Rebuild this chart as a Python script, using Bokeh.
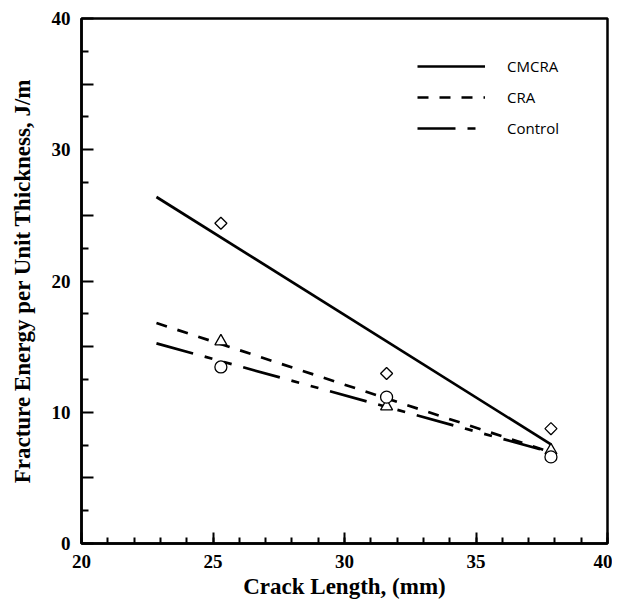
import numpy as np
from bokeh.plotting import figure
from bokeh.models import Range1d, FixedTicker, Legend, LegendItem
from bokeh.embed import file_html
from bokeh.resources import INLINE

# ---- data ----
crack_length = [25.3, 31.6, 37.85]
cmcra_points = [24.4, 12.95, 8.75]
cra_points = [15.4, 10.45, 7.1]
control_points = [13.45, 11.15, 6.6]

fit_x = [22.85, 37.85]
cmcra_fit = [26.4, 7.55]
cra_fit = [16.8, 6.95]
control_fit = [15.25, 6.95]

series_names = ["CMCRA", "CRA", "Control"]

x_major = [20, 25, 30, 35, 40]
x_minor = list(range(20, 41))
y_major = [0, 5, 10, 15, 20, 25, 30, 35, 40]
y_minor = [2.5, 7.5, 12.5, 17.5, 22.5, 27.5, 32.5, 37.5]
y_labels = {0: "0", 5: "", 10: "10", 15: "", 20: "20", 25: "", 30: "30", 35: "", 40: "40"}

p = figure(width=612, height=603, output_backend="svg", toolbar_location=None,
           x_range=Range1d(20, 40), y_range=Range1d(0, 40),
           min_border_left=81, min_border_right=5, min_border_top=18, min_border_bottom=60)
p.grid.visible = False
p.outline_line_color = "black"
p.outline_line_width = 2.5
p.background_fill_color = "white"
p.border_fill_color = "white"

for ax in (p.xaxis[0], p.yaxis[0]):
    ax.axis_line_width = 2.5
    ax.axis_line_color = "black"
    ax.major_tick_line_width = 2
    ax.minor_tick_line_width = 2
    ax.major_tick_line_color = "black"
    ax.minor_tick_line_color = "black"
    ax.major_tick_out = 0
    ax.minor_tick_out = 0
    ax.major_label_text_font = "Liberation Serif"
    ax.major_label_text_font_style = "bold"
    ax.major_label_text_font_size = "19px"
    ax.major_label_text_color = "black"
    ax.axis_label_text_font = "Liberation Serif"
    ax.axis_label_text_font_style = "bold"
    ax.axis_label_text_font_size = "23px"
    ax.axis_label_text_color = "black"

p.xaxis.ticker = FixedTicker(ticks=x_major, minor_ticks=x_minor)
p.xaxis.major_tick_in = 11
p.xaxis.minor_tick_in = 6
p.xaxis.major_label_standoff = 11
p.xaxis.axis_label = "Crack Length, (mm)"
p.xaxis.axis_label_standoff = 3

p.yaxis.ticker = FixedTicker(ticks=y_major, minor_ticks=y_minor)
p.yaxis.major_label_overrides = {k: v for k, v in y_labels.items()}
p.yaxis.major_tick_in = 12
p.yaxis.minor_tick_in = 7
p.yaxis.major_label_standoff = 11
p.yaxis.axis_label = "Fracture Energy per Unit Thickness, J/m"
p.yaxis.axis_label_standoff = 14

l1 = p.line(fit_x, cmcra_fit, line_color="black", line_width=2.7)
l2 = p.line(fit_x, cra_fit, line_color="black", line_width=2.7, line_dash="11 11")
l3 = p.line(fit_x, control_fit, line_color="black", line_width=2.7, line_dash="38 12 8 12 8 12")

p.scatter(crack_length, cmcra_points, marker="square", angle=np.pi / 4, size=8.5,
          fill_color="white", line_color="black", line_width=1.3)
p.scatter(crack_length, cra_points, marker="triangle", size=12,
          fill_color="white", line_color="black", line_width=1.3)
p.scatter(crack_length, control_points, marker="circle", size=12,
          fill_color="white", line_color="black", line_width=1.3)

legend = Legend(items=[LegendItem(label=series_names[0], renderers=[l1]),
                       LegendItem(label=series_names[1], renderers=[l2]),
                       LegendItem(label=series_names[2], renderers=[l3])],
                location=(336, 405), padding=0, spacing=11, margin=0,
                glyph_width=68, glyph_height=20, label_height=20, label_standoff=22,
                border_line_color=None, background_fill_alpha=0,
                label_text_font="Open Sans", label_text_font_size="15px",
                label_text_color="black")
p.add_layout(legend)

open("out.html", "w").write(file_html(p, INLINE))
